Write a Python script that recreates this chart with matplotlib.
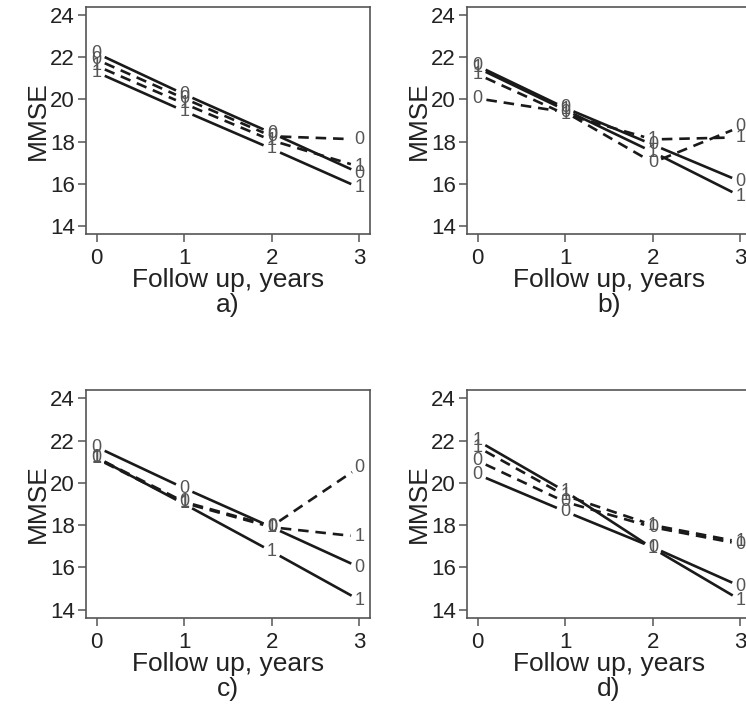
import numpy as np
import matplotlib.pyplot as plt

plt.rcParams['font.family'] = ['Liberation Sans', 'DejaVu Sans']

years = [0, 1, 2, 3]

# panel a
a_solid0 = [22.2, 20.25, 18.4, 16.5]
a_solid1 = [21.3, 19.45, 17.65, 15.8]
a_dash0 = [21.9, 20.05, 18.25, 18.1]
a_dash1 = [21.6, 19.8, 18.05, 16.8]

# panel b
b_solid0 = [21.6, 19.6, 17.85, 16.1]
b_solid1 = [21.5, 19.5, 17.5, 15.4]
b_dash0 = [20.05, 19.4, 17.0, 18.7]
b_dash1 = [21.2, 19.3, 18.1, 18.2]

# panel c
c_solid0 = [21.7, 19.75, 17.9, 16.0]
c_solid1 = [21.2, 19.0, 16.75, 14.45]
c_dash0 = [21.2, 19.1, 17.95, 20.75]
c_dash1 = [21.15, 19.05, 17.9, 17.45]

# panel d
d_solid0 = [20.4, 18.65, 16.95, 15.1]
d_solid1 = [22.0, 19.6, 16.9, 14.45]
d_dash0 = [21.05, 19.1, 17.9, 17.1]
d_dash1 = [21.7, 19.4, 18.0, 17.2]

panel_names = ['a)', 'b)', 'c)', 'd)']
yticks = [14, 16, 18, 20, 22, 24]

W, H = 746, 707
fig = plt.figure(figsize=(W / 100, H / 100), dpi=100)

# axes boxes in pixels: left, top, right, bottom
boxes = [(86, 7, 370, 234), (467, 7, 751, 234),
         (86, 390, 370, 618), (467, 390, 751, 618)]

panels = [
    (a_solid0, a_solid1, a_dash0, a_dash1),
    (b_solid0, b_solid1, b_dash0, b_dash1),
    (c_solid0, c_solid1, c_dash0, c_dash1),
    (d_solid0, d_solid1, d_dash0, d_dash1),
]

gap = 9  # pixels left free around each label, like R type="b"
line_col = '#1a1a1a'
lab_col = '#555555'
axis_col = '#555555'


def gapped_line(ax, xs, ys, ls):
    pts = ax.transData.transform(np.column_stack([xs, ys]))
    inv = ax.transData.inverted()
    for i in range(len(pts) - 1):
        p0, p1 = pts[i], pts[i + 1]
        d = p1 - p0
        n = np.hypot(*d)
        if n <= 2 * gap:
            continue
        u = d / n
        q = inv.transform(np.array([p0 + u * gap, p1 - u * gap]))
        ln, = ax.plot(q[:, 0], q[:, 1], color=line_col, lw=1.9,
                      solid_capstyle='butt', dash_capstyle='butt')
        if ls == 'dashed':
            ln.set_linestyle((0, (4, 2.6)))


for k, (box, series) in enumerate(zip(boxes, panels)):
    l, t, r, b = box
    ax = fig.add_axes([l / W, 1 - b / H, (r - l) / W, (b - t) / H])
    ax.set_xlim(-0.12, 3.12)
    ax.set_ylim(13.6, 24.4)
    ax.set_xticks(years)
    ax.set_yticks(yticks)
    ax.tick_params(labelsize=16, length=6, width=1.1, color=axis_col,
                   labelcolor='#222222', pad=2)
    ax.tick_params(axis='x', pad=4)
    for sp in ax.spines.values():
        sp.set_color(axis_col)
        sp.set_linewidth(1.2)
    ax.set_ylabel('MMSE', fontsize=19, color='#222222', labelpad=0)

    s0, s1, d0, d1 = series
    for vals, ls, lab in [(s0, 'solid', '0'), (s1, 'solid', '1'),
                          (d0, 'dashed', '0'), (d1, 'dashed', '1')]:
        gapped_line(ax, years, vals, ls)
        for x, y in zip(years, vals):
            ax.text(x, y, lab, ha='center', va='center', fontsize=13,
                    color=lab_col)

    cx = (l + min(r, 751)) / 2 / W
    fig.text(cx, 1 - (b + 46) / H, 'Follow up, years', ha='center',
             va='center', fontsize=19, color='#222222')
    fig.text(cx, 1 - (b + 71) / H, panel_names[k], ha='center',
             va='center', fontsize=19, color='#222222')

fig.savefig('out.png', dpi=100)
